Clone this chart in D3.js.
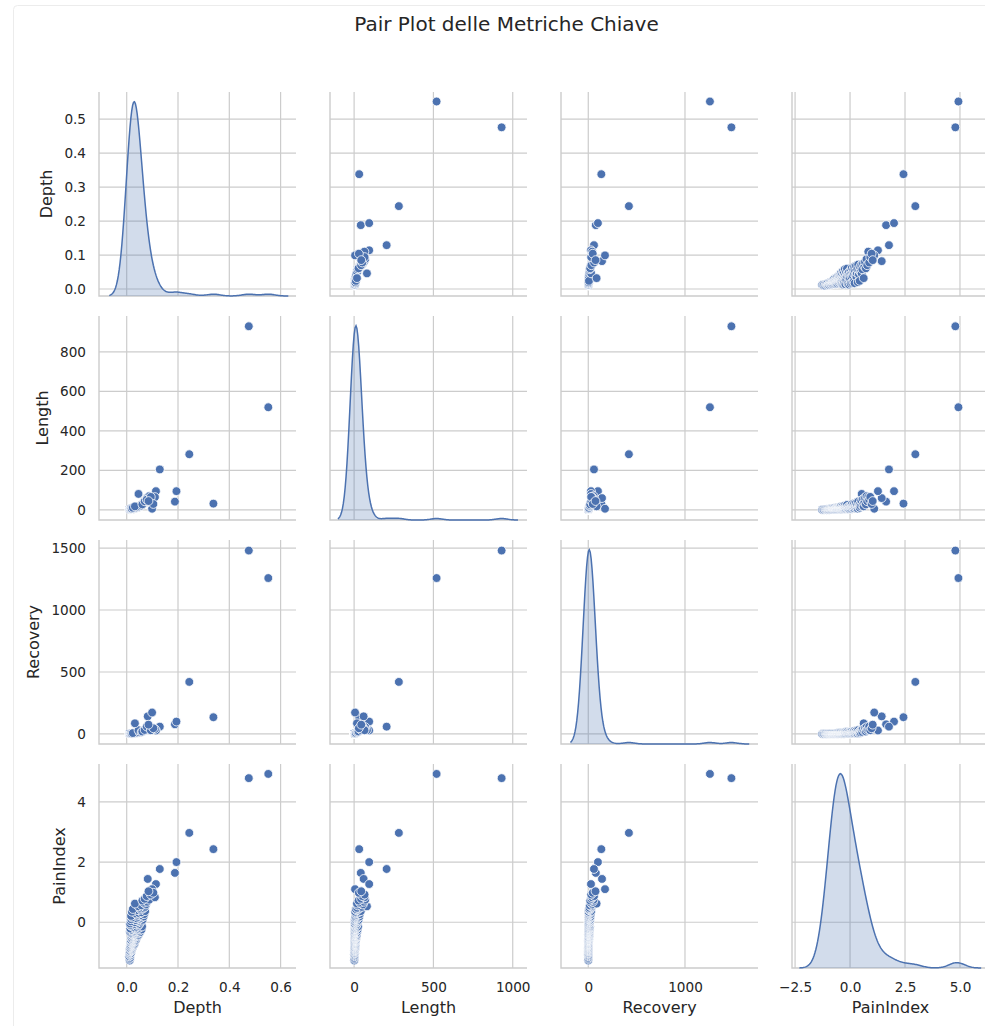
<!DOCTYPE html>
<html>
<head>
<meta charset="utf-8">
<script src="https://cdn.jsdelivr.net/npm/d3@7"></script>
<style>
body { margin: 0; background: #fff; }
text { font-family: "DejaVu Sans", sans-serif; fill: #262626; }
</style>
</head>
<body>
<script>
var w = 985, h = 1026;

var variables = ["Depth", "Length", "Recovery", "PainIndex"];

// one entry per drawdown episode, same order in every array
var depthVals = [
  0.552, 0.476, 0.338, 0.244, 0.188, 0.194, 0.129, 0.082, 0.114, 0.099,
  0.012, 0.011, 0.013, 0.010, 0.014, 0.012, 0.016, 0.011,
  0.013, 0.015, 0.012, 0.018, 0.014, 0.020, 0.016, 0.013, 0.022, 0.017, 0.015,
  0.024, 0.019, 0.014, 0.021, 0.027, 0.018, 0.016, 0.023, 0.030, 0.019, 0.025,
  0.017, 0.021, 0.026, 0.015, 0.019, 0.033, 0.023, 0.018, 0.028, 0.020, 0.036,
  0.016, 0.024, 0.030, 0.021, 0.019, 0.038, 0.027, 0.022, 0.032, 0.018, 0.025,
  0.041, 0.029, 0.020, 0.035, 0.024, 0.046, 0.027, 0.022,
  0.021, 0.030, 0.044, 0.025, 0.015, 0.034, 0.052, 0.028, 0.013, 0.039, 0.031,
  0.048, 0.016, 0.021, 0.036, 0.058, 0.029, 0.042, 0.014, 0.033, 0.050, 0.027,
  0.038, 0.060, 0.017, 0.045,
  0.014, 0.035, 0.049, 0.013, 0.041, 0.031, 0.055, 0.016, 0.044, 0.036, 0.062,
  0.018, 0.048, 0.039, 0.057, 0.021, 0.045, 0.066,
  0.017, 0.052, 0.041, 0.068, 0.036, 0.047, 0.058, 0.020, 0.072, 0.044, 0.055,
  0.024, 0.064, 0.050,
  0.071, 0.046, 0.058, 0.075, 0.032, 0.066, 0.080, 0.061, 0.088, 0.070,
  0.110, 0.078, 0.094, 0.104, 0.085
];

var lengthVals = [
  520, 930, 32, 282, 42, 95, 205, 60, 95, 6,
  1, 2, 1, 3, 2, 1, 4, 2,
  2, 3, 1, 4, 2, 5, 3, 2, 6, 3, 2, 7, 4, 2, 5, 8, 3, 2, 6, 9, 4, 5,
  3, 4, 6, 2, 3, 9, 5, 3, 7, 4, 11, 2, 5, 8, 4, 3, 12, 6, 4, 9, 3, 5, 14, 7,
  4, 10, 5, 16, 6, 4,
  4, 7, 13, 5, 3, 9, 18, 6, 4, 11, 8, 15, 5, 4, 10, 22, 6, 12, 5, 8, 17, 6,
  11, 25, 7, 14,
  6, 9, 16, 4, 12, 7, 21, 5, 14, 10, 28, 6, 17, 11, 24, 8, 15, 33,
  8, 20, 13, 35, 10, 16, 26, 7, 42, 14, 23, 11, 31, 19,
  48, 81, 22, 55, 18, 37, 62, 28, 70, 44,
  65, 52, 66, 30, 45
];

var recoveryVals = [
  1258, 1480, 135, 420, 78, 100, 59, 142, 28, 173,
  0, 1, 0, 2, 1, 0, 1, 0,
  1, 0, 2, 1, 0, 3, 1, 0, 2, 1, 4, 2, 0, 1, 3, 2, 1, 0, 2, 5, 1, 3,
  2, 1, 3, 0, 2, 5, 1, 2, 4, 1, 6, 0, 3, 4, 2, 1, 8, 3, 2, 5, 1, 2, 9, 4,
  3, 6, 2, 10, 3, 1,
  2, 4, 8, 3, 1, 5, 11, 3, 2, 7, 4, 9, 2, 1, 6, 14, 3, 8, 2, 5, 12, 3,
  7, 16, 4, 9,
  3, 6, 11, 2, 8, 4, 15, 3, 10, 6, 19, 4, 12, 7, 17, 5, 10, 22,
  5, 14, 9, 24, 6, 12, 18, 4, 30, 10, 16, 7, 22, 13,
  35, 30, 16, 42, 86, 25, 48, 20, 55, 32,
  40, 60, 30, 46, 75
];

var painVals = [
  4.93, 4.79, 2.43, 2.97, 1.64, 2.00, 1.77, 1.44, 1.27, 1.10,
  -1.27, -1.22, -1.18, -1.13, -1.10, -1.06, -1.03, -1.01,
  -0.98, -0.96, -0.95, -0.93, -0.91, -0.90, -0.88, -0.86, -0.85, -0.83, -0.82,
  -0.80, -0.79, -0.78, -0.77, -0.76, -0.75, -0.74, -0.73, -0.72, -0.71, -0.70,
  -0.69, -0.68, -0.66, -0.66, -0.65, -0.63, -0.63, -0.62, -0.60, -0.60, -0.58,
  -0.58, -0.57, -0.55, -0.55, -0.54, -0.52, -0.52, -0.51, -0.49, -0.49, -0.48,
  -0.46, -0.46, -0.45, -0.43, -0.43, -0.42, -0.41, -0.40,
  -0.39, -0.38, -0.37, -0.36, -0.35, -0.34, -0.33, -0.32, -0.31, -0.30, -0.29,
  -0.28, -0.27, -0.26, -0.25, -0.24, -0.23, -0.22, -0.21, -0.20, -0.18, -0.17,
  -0.15, -0.14, -0.12, -0.11,
  -0.09, -0.07, -0.06, -0.04, -0.02, 0.00, 0.02, 0.03, 0.05, 0.07, 0.08,
  0.10, 0.11, 0.13, 0.15, 0.16, 0.18, 0.19,
  0.21, 0.23, 0.25, 0.27, 0.29, 0.31, 0.33, 0.35, 0.37, 0.40, 0.42,
  0.44, 0.46, 0.48,
  0.51, 0.53, 0.56, 0.59, 0.62, 0.65, 0.68, 0.72, 0.75, 0.78,
  0.83, 0.87, 0.92, 0.98, 1.03
];

var columns = [depthVals, lengthVals, recoveryVals, painVals];

// axis limits as shown on the figure
var xLimits = [[-0.108, 0.66], [-152, 1090], [-282, 1755], [-2.64, 6.32]];
var yLimits = [[-0.0206, 0.580], [-51, 982], [-81, 1565], [-1.52, 5.26]];

var xTicks = [[0, 0.2, 0.4, 0.6], [0, 500, 1000], [0, 1000], [-2.5, 0, 2.5, 5]];
var yTicks = [[0, 0.1, 0.2, 0.3, 0.4, 0.5], [0, 200, 400, 600, 800], [0, 500, 1000, 1500], [0, 2, 4]];
var xFormats = [".1f", "d", "d", ".1f"];
var yFormats = [".1f", "d", "d", "d"];

var colLeft = [99, 330, 561, 792];
var rowTop = [92, 316, 540, 764];
var pw = 197, ph = 204;

var blue = "#4c72b0", gridCol = "#cccccc";

var svg = d3.select("body").append("svg")
  .attr("width", w)
  .attr("height", h);

svg.append("rect")
  .attr("x", 13.5).attr("y", 5.5)
  .attr("width", w).attr("height", h)
  .attr("rx", 4)
  .attr("fill", "#fff")
  .attr("stroke", "#ececec");

svg.append("text")
  .attr("x", 506.5)
  .attr("y", 31)
  .attr("text-anchor", "middle")
  .style("font-size", "20px")
  .text("Pair Plot delle Metriche Chiave");

function kde(values) {
  var n = values.length;
  var bw = d3.deviation(values) * Math.pow(n, -0.2);
  var lo = d3.min(values) - 3 * bw, hi = d3.max(values) + 3 * bw;
  return d3.range(200).map(function(i) {
    var x = lo + (hi - lo) * i / 199;
    var dens = d3.mean(values, v => Math.exp(-0.5 * Math.pow((x - v) / bw, 2))) / (bw * Math.sqrt(2 * Math.PI));
    return [x, dens];
  });
}

for (var r = 0; r < 4; r++) {
  for (var c = 0; c < 4; c++) {
    var g = svg.append("g")
      .attr("transform", `translate(${colLeft[c]}, ${rowTop[r]})`);

    var x = d3.scaleLinear().domain(xLimits[c]).range([0, pw]);
    var y = d3.scaleLinear().domain(yLimits[r]).range([ph, 0]);

    g.selectAll(".vgrid")
      .data(xTicks[c])
      .enter()
      .append("line")
      .attr("x1", d => x(d)).attr("x2", d => x(d))
      .attr("y1", 0).attr("y2", ph)
      .attr("stroke", gridCol)
      .attr("stroke-width", 1.2);

    g.selectAll(".hgrid")
      .data(yTicks[r])
      .enter()
      .append("line")
      .attr("x1", 0).attr("x2", pw)
      .attr("y1", d => y(d)).attr("y2", d => y(d))
      .attr("stroke", gridCol)
      .attr("stroke-width", 1.2);

    // left and bottom spines only
    g.append("path")
      .attr("d", `M0,0V${ph}H${pw}`)
      .attr("fill", "none")
      .attr("stroke", gridCol)
      .attr("stroke-width", 1.4);

    if (r == c) {
      var dens = kde(columns[c]);
      var yd = d3.scaleLinear()
        .domain([0, d3.max(dens, d => d[1]) * 1.05])
        .range([ph, 0]);

      g.append("path")
        .datum(dens)
        .attr("d", d3.area().x(d => x(d[0])).y0(ph).y1(d => yd(d[1])))
        .attr("fill", blue)
        .attr("fill-opacity", 0.25);

      g.append("path")
        .datum(dens)
        .attr("d", d3.line().x(d => x(d[0])).y(d => yd(d[1])))
        .attr("fill", "none")
        .attr("stroke", blue)
        .attr("stroke-width", 1.5);
    } else {
      var pts = d3.range(depthVals.length).map(i => [columns[c][i], columns[r][i]]);
      g.selectAll("circle")
        .data(pts)
        .enter()
        .append("circle")
        .attr("cx", d => x(d[0]))
        .attr("cy", d => y(d[1]))
        .attr("r", 4.4)
        .attr("fill", blue)
        .attr("stroke", "#fff")
        .attr("stroke-width", 0.8);
    }

    if (c == 0) {
      var yAxis = g.append("g")
        .call(d3.axisLeft(y).tickValues(yTicks[r]).tickSize(0).tickPadding(13).tickFormat(d3.format(yFormats[r])));
      yAxis.select(".domain").remove();
      yAxis.selectAll("text").style("font-size", "13.6px").attr("fill", "#262626");
      var bb = yAxis.node().getBBox();
      g.append("text")
        .attr("transform", `translate(${bb.x - 12}, ${ph / 2}) rotate(-90)`)
        .attr("text-anchor", "middle")
        .style("font-size", "16px")
        .text(variables[r]);
    }

    if (r == 3) {
      var xAxis = g.append("g")
        .attr("transform", `translate(0, ${ph})`)
        .call(d3.axisBottom(x).tickValues(xTicks[c]).tickSize(0).tickPadding(14).tickFormat(d3.format(xFormats[c])));
      xAxis.select(".domain").remove();
      xAxis.selectAll("text").style("font-size", "13.6px").attr("fill", "#262626");
      g.append("text")
        .attr("x", pw / 2)
        .attr("y", ph + 45)
        .attr("text-anchor", "middle")
        .style("font-size", "16px")
        .text(variables[c]);
    }
  }
}
</script>
</body>
</html>
